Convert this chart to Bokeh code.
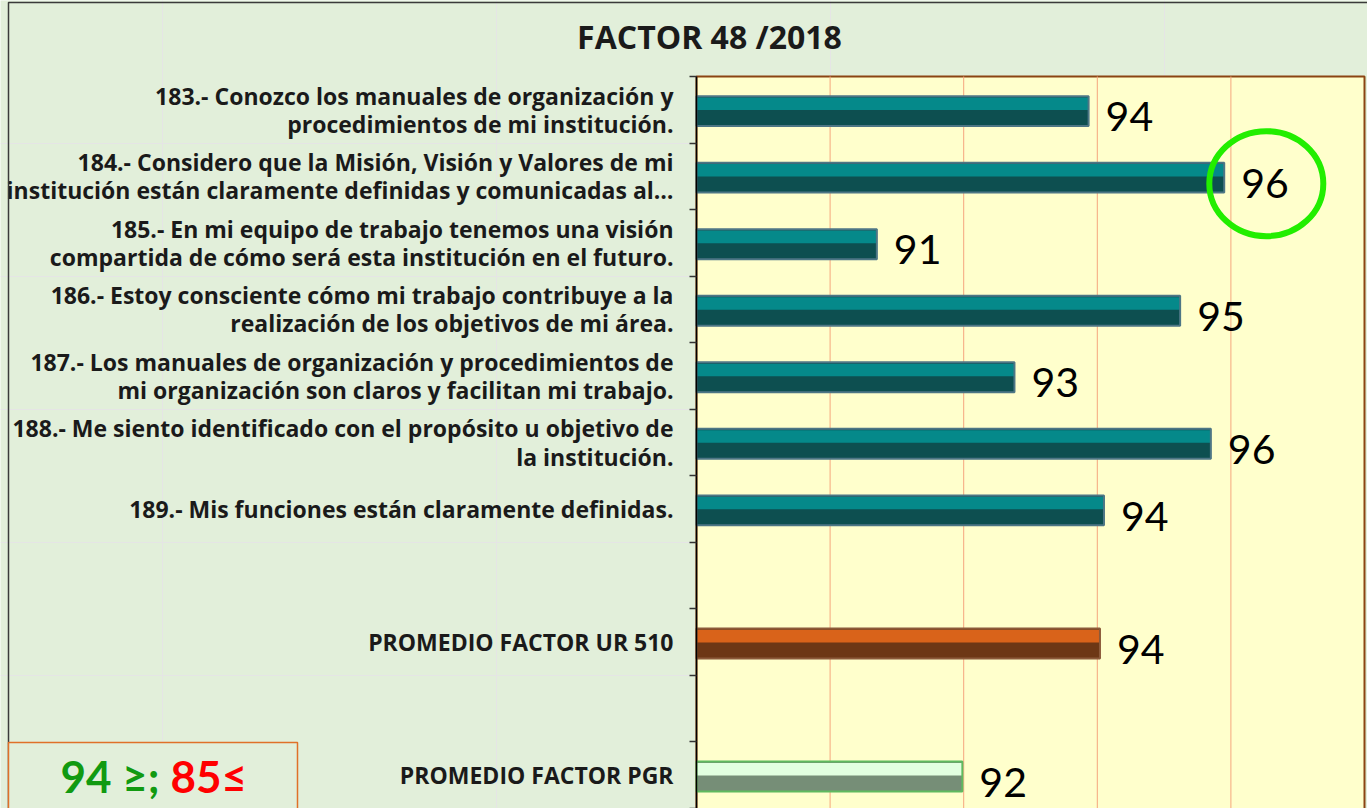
from bokeh.plotting import figure
from bokeh.models import (Range1d, LinearAxis, FixedTicker, Label, BoxAnnotation,
                          ColumnDataSource)
from bokeh.core.properties import value
from bokeh.embed import file_html
from bokeh.resources import INLINE

# ---------------- data ----------------
questions = [
    "183.- Conozco los manuales de organización y\nprocedimientos de mi institución.",
    "184.- Considero que la Misión, Visión y Valores de mi\ninstitución están claramente definidas y comunicadas al…",
    "185.- En mi equipo de trabajo tenemos una visión\ncompartida de cómo será esta institución en el futuro.",
    "186.- Estoy consciente cómo mi trabajo contribuye a la\nrealización de los objetivos de mi área.",
    "187.- Los manuales de organización y procedimientos de\nmi organización son claros y facilitan mi trabajo.",
    "188.- Me siento identificado con el propósito u objetivo de\nla institución.",
    "189.- Mis funciones están claramente definidas.",
]
question_values = [93.87, 95.90, 90.70, 95.24, 92.76, 95.70, 94.10]
question_labels = ["94", "96", "91", "95", "93", "96", "94"]

ur_category = "PROMEDIO FACTOR UR 510"
ur_value = 94.04
ur_label = "94"

pgr_category = "PROMEDIO FACTOR PGR"
pgr_value = 91.98
pgr_label = "92"

grid_ticks = [90, 92, 94, 96]

title_text = "FACTOR 48 /2018"
legend_green = "94 ≥;"
legend_red = "85≤"

# ---------------- layout ----------------
W, H = 1367, 808
X0, X1 = 88, 98                 # value axis range of the plot area
PA_LEFT, PA_RIGHT, PA_TOP = 696, 1364, 76   # plot area in pixels
BAR_H = 0.45
LABEL_FONT = "Open Sans"
VALUE_FONT = "Lato"

# category slots, top to bottom ("" = empty slot)
order = questions + ["", ur_category, "", pgr_category]
n_slots = len(order)
slot = {c: n_slots - i - 0.5 for i, c in enumerate(order) if c}

# whole canvas is the frame; the plot area sits inside it
px_x = (PA_RIGHT - PA_LEFT) / (X1 - X0)
px_y = (H - PA_TOP) / n_slots
x_lo = X0 - PA_LEFT / px_x
x_hi = X0 + (W - PA_LEFT) / px_x
y_hi = n_slots + PA_TOP / px_y

p = figure(width=W, height=H,
           x_range=Range1d(x_lo, x_hi), y_range=Range1d(0, y_hi),
           x_axis_location=None, y_axis_location=None,
           min_border_left=0, min_border_right=0, min_border_top=0, min_border_bottom=0,
           background_fill_color="#e2efda", border_fill_color="#e2efda",
           outline_line_color=None,
           toolbar_location=None, output_backend="svg")

# plot area
p.quad(left=[X0], right=[X1], bottom=[-0.2], top=[n_slots],
       fill_color="#ffffcc", line_color="#8b4513", line_width=2)

# vertical gridlines
p.segment(x0=grid_ticks, x1=grid_ticks, y0=[0] * len(grid_ticks), y1=[n_slots] * len(grid_ticks),
          line_color="#f5a67e", line_width=1)

# tick-only axis at slot boundaries
tick_axis = LinearAxis(fixed_location=X0, bounds=(0, n_slots),
                       ticker=FixedTicker(ticks=list(range(n_slots + 1))),
                       major_tick_out=7, major_tick_in=0, minor_tick_out=0, minor_tick_in=0,
                       major_tick_line_color="#333333", major_tick_line_width=1.5,
                       axis_line_color="#000000", axis_line_width=1.5,
                       major_label_text_font_size="0px", major_label_standoff=0)
tick_axis.major_label_overrides = {i: "" for i in range(n_slots + 1)}
p.add_layout(tick_axis, "left")

# category label axis
label_axis = LinearAxis(fixed_location=X0, bounds=(0, n_slots),
                        ticker=FixedTicker(ticks=list(slot.values())),
                        major_tick_out=0, major_tick_in=0, minor_tick_out=0, minor_tick_in=0,
                        axis_line_color=None,
                        major_label_text_font=LABEL_FONT, major_label_text_font_size="23px",
                        major_label_text_font_style="bold", major_label_text_color="#1a1a1a",
                        major_label_text_line_height=0.88,
                        major_label_standoff=23)
label_axis.major_label_overrides = {v: c for c, v in slot.items()}
p.add_layout(label_axis, "left")


def bars(cats, vals, labels, top_color, bottom_color, edge_color):
    ys = [slot[c] for c in cats]
    src = ColumnDataSource(dict(y=ys, ytop=[y + 0.09 for y in ys], ybar=[y - 0.02 for y in ys],
                                right=vals, text=labels))
    p.hbar(y="ybar", left=X0, right="right", height=BAR_H,
           fill_color=bottom_color, line_color=None, source=src)
    p.hbar(y="ytop", left=X0, right="right", height=BAR_H * 0.42,
           fill_color=top_color, line_color=None, source=src)
    p.hbar(y="ybar", left=X0, right="right", height=BAR_H,
           fill_color=None, line_color=edge_color, line_width=2, source=src)
    p.text(x="right", y="y", text="text", x_offset=17, y_offset=7, source=src,
           text_font=value(VALUE_FONT), text_font_size="41px", text_color="#000000",
           text_align="left", text_baseline="middle")


bars(questions, question_values, question_labels, "#05898a", "#0d4f50", "#4d7685")
bars([ur_category], [ur_value], [ur_label], "#d9631a", "#6d3715", "#8c5a3a")
bars([pgr_category], [pgr_value], [pgr_label], "#e2ffe0", "#768e77", "#5fba5f")

# highlight circle around question 184 label
p.ellipse(x=[question_values[1] + 0.63], y=[slot[questions[1]] - 0.11], width=114, height=105,
          width_units="screen", height_units="screen",
          fill_color=None, line_color="#22ee00", line_width=6)

# title
p.add_layout(Label(x=709, y=H - 36, x_units="screen", y_units="screen", text=title_text,
                   text_align="center", text_baseline="middle", text_font="Open Sans",
                   text_font_size="32px", text_font_style="bold", text_color="#1a1a1a"))

# outer slide border
p.add_layout(BoxAnnotation(left=8, right=W + 20, bottom=-20, top=H - 2,
                           left_units="screen", right_units="screen",
                           top_units="screen", bottom_units="screen",
                           fill_alpha=0, line_color="#3a3a3a", line_alpha=1, line_width=1.5))

# threshold box at bottom left
p.add_layout(BoxAnnotation(left=8, right=297, bottom=-5, top=H - 742,
                           left_units="screen", right_units="screen",
                           top_units="screen", bottom_units="screen",
                           fill_color="#e2efda", fill_alpha=1,
                           line_color="#e07028", line_alpha=1, line_width=1.5))
p.add_layout(Label(x=60, y=H - 775, x_units="screen", y_units="screen", text=legend_green,
                   text_align="left", text_baseline="middle", text_font="Lato",
                   text_font_size="44px", text_font_style="bold", text_color="#119a11"))
p.add_layout(Label(x=170, y=H - 775, x_units="screen", y_units="screen", text=legend_red,
                   text_align="left", text_baseline="middle", text_font="Lato",
                   text_font_size="44px", text_font_style="bold", text_color="#ff0000"))

open("out.html", "w").write(file_html(p, INLINE))
